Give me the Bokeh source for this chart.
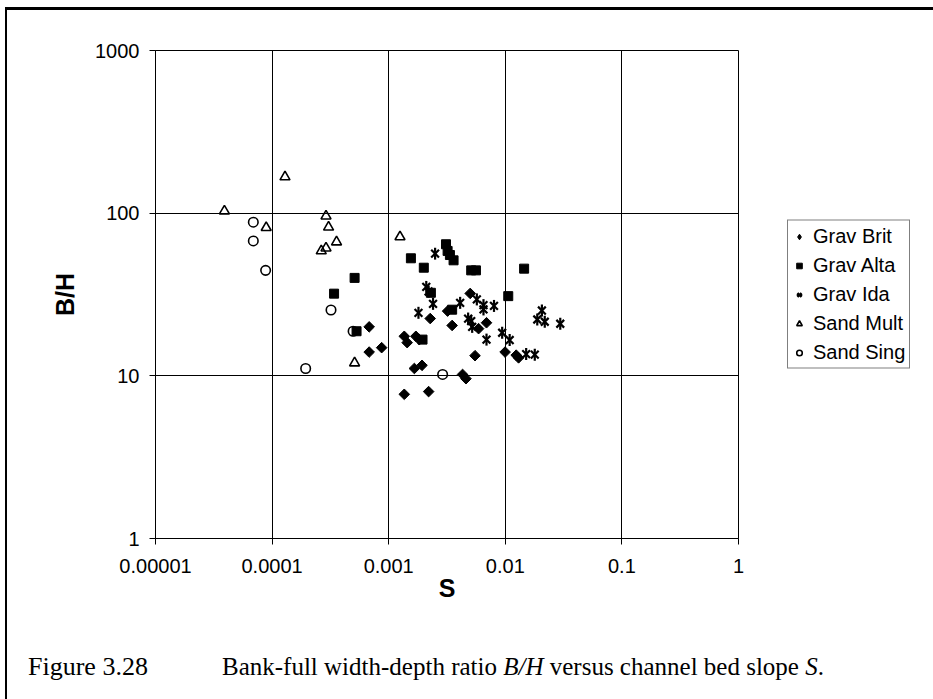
import math
from bokeh.plotting import figure
from bokeh.models import (FixedTicker, CustomJSTickFormatter, Legend, LegendItem,
                          Range1d, Div)
from bokeh.layouts import column
from bokeh.embed import file_html
from bokeh.resources import INLINE

# ---------------- data ----------------
grav_brit_s = [6.8e-4, 6.8e-4, 8.7e-4, 1.36e-3, 1.44e-3, 1.71e-3, 1.83e-3, 2.27e-3,
               3.2e-3, 3.5e-3, 5.0e-3, 6.9e-3, 5.9e-3, 5.5e-3, 9.96e-3, 0.0124,
               0.013, 1.66e-3, 1.93e-3, 4.3e-3, 4.6e-3, 1.36e-3, 2.2e-3]
grav_brit_bh = [20, 14, 14.9, 17.5, 16, 17.5, 16.7, 22.5,
                25, 20.4, 32.1, 21.2, 19.5, 13.3, 14.0, 13.4,
                12.9, 11.1, 11.6, 10.2, 9.6, 7.7, 8.0]

grav_alta_s = [3.4e-4, 5.1e-4, 5.3e-4, 1.55e-3, 2.0e-3, 3.1e-3, 3.2e-3, 3.35e-3,
               3.6e-3, 5.1e-3, 5.6e-3, 0.0145, 0.0106, 2.3e-3, 3.5e-3, 1.95e-3]
grav_alta_bh = [32, 40, 18.8, 52.8, 46.2, 64.4, 58.6, 55.3,
                51.3, 44.5, 44.5, 45.6, 30.9, 32.4, 25.5, 16.7]

grav_ida_s = [2.5e-3, 2.1e-3, 2.2e-3, 2.4e-3, 1.8e-3, 4.1e-3, 5.7e-3, 6.5e-3,
              6.5e-3, 8.0e-3, 4.8e-3, 5.1e-3, 5.2e-3, 6.9e-3, 9.4e-3, 0.0109,
              0.0151, 0.0179, 0.0206, 0.0188, 0.0218, 0.0296]
grav_ida_bh = [56.4, 35.2, 33.0, 27.7, 24.4, 28.1, 29.5, 27.2,
               25.6, 26.9, 22.5, 21.7, 20.0, 16.7, 18.4, 16.6,
               13.6, 13.5, 25.2, 22.2, 21.5, 20.9]

sand_mult_s = [3.9e-5, 8.9e-5, 1.29e-4, 2.9e-4, 3.05e-4, 3.57e-4, 2.9e-4, 2.64e-4,
               5.1e-4, 1.25e-3]
sand_mult_bh = [103, 81.5, 167, 96, 82, 66.5, 61, 58.6, 12.0, 71.5]

sand_sing_s = [6.9e-5, 6.9e-5, 8.8e-5, 3.2e-4, 4.95e-4, 1.94e-4, 2.9e-3]
sand_sing_bh = [88, 67.5, 44.5, 25.4, 18.8, 11.1, 10.2]

x_ticks = [1e-5, 1e-4, 1e-3, 1e-2, 1e-1, 1]
x_tick_labels = ["0.00001", "0.0001", "0.001", "0.01", "0.1", "1"]
y_ticks = [1, 10, 100, 1000]
y_tick_labels = ["1", "10", "100", "1000"]

series_names = ["Grav Brit", "Grav Alta", "Grav Ida", "Sand Mult", "Sand Sing"]
x_title = "S"
y_title = "B/H"
caption_num = "Figure 3.28"
caption_text = "Bank-full width-depth ratio <i>B/H</i> versus channel bed slope <i>S</i>."

# ---------------- figure ----------------
FONT = "Liberation Sans"
SERIF = "Liberation Serif"

p = figure(x_axis_type="log", y_axis_type="log",
           x_range=Range1d(1e-5, 1), y_range=Range1d(1, 1000),
           frame_width=583, frame_height=488,
           min_border_left=148, min_border_right=0,
           min_border_top=40, min_border_bottom=82,
           output_backend="svg", toolbar_location=None)

p.outline_line_color = "black"
p.outline_line_width = 1
p.background_fill_color = "white"
p.border_fill_color = "white"

fmt_code = """
let best = 0; let bd = 1e9;
for (let i = 0; i < tvals.length; i++) {
  const d = Math.abs(Math.log10(tick) - Math.log10(tvals[i]));
  if (d < bd) { bd = d; best = i; }
}
return tlabels[best];
"""
p.xaxis.ticker = FixedTicker(ticks=x_ticks, minor_ticks=[])
p.yaxis.ticker = FixedTicker(ticks=y_ticks, minor_ticks=[])
p.xaxis.formatter = CustomJSTickFormatter(args=dict(tvals=x_ticks, tlabels=x_tick_labels), code=fmt_code)
p.yaxis.formatter = CustomJSTickFormatter(args=dict(tvals=y_ticks, tlabels=y_tick_labels), code=fmt_code)

for ax in (p.xaxis[0], p.yaxis[0]):
    ax.axis_line_color = "black"
    ax.major_tick_line_color = "black"
    ax.major_tick_out = 6
    ax.major_tick_in = 0
    ax.minor_tick_line_color = None
    ax.major_label_text_font = FONT
    ax.major_label_text_font_size = "20px"
    ax.major_label_text_color = "black"
    ax.axis_label_text_font = FONT
    ax.axis_label_text_font_size = "25px"
    ax.axis_label_text_font_style = "bold"
    ax.axis_label_text_color = "black"

p.xaxis.axis_label = x_title
p.yaxis.axis_label = y_title
p.xaxis.major_label_standoff = 14
p.xaxis.axis_label_standoff = -2
p.yaxis.major_label_standoff = 10
p.yaxis.axis_label_standoff = 13

p.xgrid.grid_line_color = "black"
p.ygrid.grid_line_color = "black"
p.xgrid.grid_line_width = 1
p.ygrid.grid_line_width = 1

# ---------------- markers ----------------
r_brit = p.scatter(grav_brit_s, grav_brit_bh, marker="square", angle=math.pi / 4,
                   size=7.5, fill_color="black", line_color="black")
r_alta = p.scatter(grav_alta_s, grav_alta_bh, marker="square", size=9,
                   fill_color="black", line_color="black")
r_ida1 = p.scatter(grav_ida_s, grav_ida_bh, marker="x", size=11,
                   line_color="black", line_width=2.2)
r_ida2 = p.scatter(grav_ida_s, grav_ida_bh, marker="dash", angle=math.pi / 2, size=12,
                   line_color="black", line_width=2.2)
r_mult = p.scatter(sand_mult_s, sand_mult_bh, marker="triangle", size=10,
                   fill_color=None, line_color="black", line_width=1.6)
r_sing = p.scatter(sand_sing_s, sand_sing_bh, marker="circle", size=9.5,
                   fill_color=None, line_color="black", line_width=1.6)
# hidden twin of the diamond series, used only for its legend swatch
# (the legend does not apply the marker angle of the rotated squares)
r_brit_key = p.scatter(grav_brit_s, grav_brit_bh, marker="diamond", size=10,
                       fill_color="black", line_color="black", visible=False)

renderer_groups = [[r_brit_key], [r_alta], [r_ida1, r_ida2], [r_mult], [r_sing]]
legend = Legend(items=[LegendItem(label=n, renderers=g) for n, g in zip(series_names, renderer_groups)],
                location="left")
legend.border_line_color = "black"
legend.border_line_width = 1
legend.background_fill_color = "white"
legend.background_fill_alpha = 1
legend.inactive_fill_alpha = 0
legend.label_text_font = FONT
legend.label_text_font_size = "20px"
legend.label_text_color = "black"
legend.glyph_width = 14
legend.glyph_height = 20
legend.label_height = 20
legend.spacing = 6
legend.padding = 4
legend.margin = 49
legend.label_standoff = 7
p.add_layout(legend, "right")

# ---------------- caption ----------------
cap_html = (
    f'<div style="font-family:\'{SERIF}\'; font-size:25px; line-height:30px; color:black; '
    f'white-space:nowrap; padding-top:27px; padding-left:16px;">'
    f'<span style="display:inline-block; width:194px; font-size:26px;">{caption_num}</span>'
    f'<span>{caption_text}</span></div>'
)
caption = Div(text=cap_html, width=926, height=72)

layout = column(p, caption)
layout.styles = {"margin-left": "5px", "margin-top": "7px",
                 "border-left": "2px solid black", "border-top": "3px solid black"}

open("out.html", "w").write(file_html(layout, INLINE))
